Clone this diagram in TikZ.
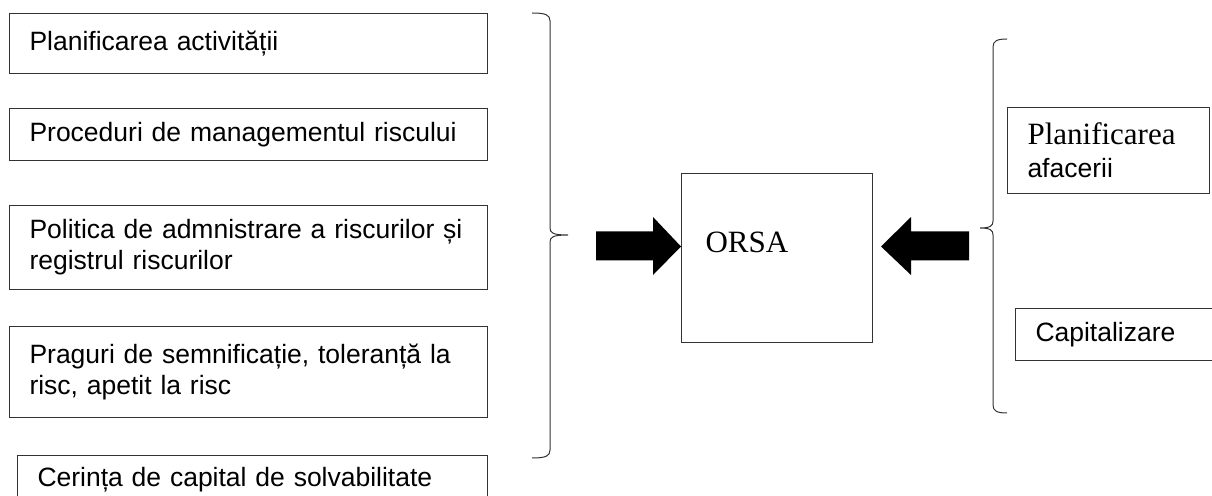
\documentclass[tikz,border=0pt]{standalone}
\usepackage{fontspec}
\setmainfont{Liberation Sans}
\newfontfamily\timesfont{Liberation Serif}
\usetikzlibrary{positioning}

\begin{document}
\begin{tikzpicture}[
    x=1pt, y=1pt,
    node distance=34pt,
    font=\fontsize{26.5}{31}\selectfont,
    item/.style={
		rectangle,
		draw=black!80,
		line width=1pt,
		anchor=north west,
		align=left,
		inner xsep=20pt,
		inner ysep=0pt,
		text width=438pt,
		minimum width=478pt
	},
	brace/.style={
		draw=black!80,
		line width=1pt
	}
  ]
  \useasboundingbox (0,0) rectangle (1212,495);

    % We start by placing the blocks
  \node [item, minimum height=60pt] (plact) at (9,482) {Planificarea activității};
  \node [item, minimum height=52pt, below=34pt of plact] (proc) {Proceduri de managementul riscului};
  \node [item, minimum height=84pt, below=44pt of proc] (polit)
 {Politica de admnistrare a riscurilor și\\registrul riscurilor};
  \node [item, minimum height=91pt, below=36pt of polit] (prag)
 {Praguri de semnificație, toleranță la\\risc, apetit la risc};
  \node [item, minimum height=49pt, minimum width=470pt, text width=430pt,
   below=37pt of prag.south east, anchor=north east] (scr) {Cerința de capital de solvabilitate};

  \node [item, minimum width=191pt, text width=151pt, minimum height=169pt] (orsa) at (681,322) {};
  \node [anchor=base west, font=\timesfont\fontsize{31}{31}\selectfont] (orsatxt) at (702,242) {ORSA};

  \node [item, minimum width=202pt, text width=162pt, minimum height=86pt] (plaf) at (1007,388)
 {{\timesfont\fontsize{31}{31}\selectfont Planificarea}\\[2pt]afacerii};
  \node [item, minimum width=220pt, text width=180pt, minimum height=52pt] (capz) at (1015,187) {Capitalizare};

  % braces
  \draw [brace] (532,482) .. controls (546,482) and (550,480) .. (550,474) -- (550,267)
   .. controls (550,262) and (553,260) .. (568,260) .. controls (553,260) and (550,258) .. (550,253)
   -- (550,45) .. controls (550,39) and (546,37) .. (532,37);
  \draw [brace] (1007,456) .. controls (997,456) and (993,454) .. (993,448) -- (993,274)
   .. controls (993,269) and (990,267) .. (980,267) .. controls (990,267) and (993,265) .. (993,260)
   -- (993,90) .. controls (993,84) and (997,82) .. (1007,82);

  % block arrows
  \fill ([yshift=11.5pt]orsa.west) -- ++(-28,29.5) -- ++(0,-14.5) -- ++(-57,0) -- ++(0,-29)
   -- ++(57,0) -- ++(0,-14.5) -- cycle;
  \fill ([xshift=8pt, yshift=11.5pt]orsa.east) -- ++(30,29.5) -- ++(0,-14.5) -- ++(58,0) -- ++(0,-29)
   -- ++(-58,0) -- ++(0,-14.5) -- cycle;

\end{tikzpicture}
\end{document}
